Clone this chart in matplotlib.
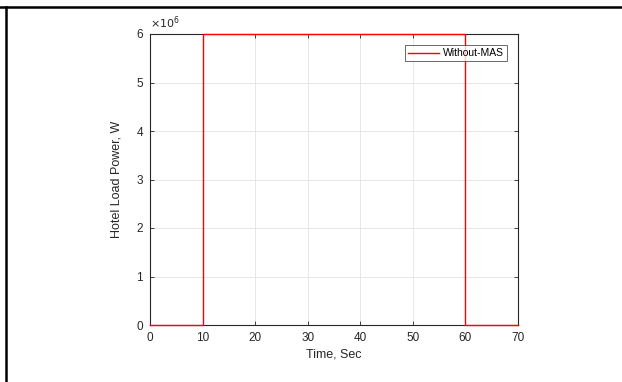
import matplotlib
matplotlib.use("Agg")
import matplotlib.pyplot as plt
from matplotlib.lines import Line2D
from matplotlib import ticker

# data: hotel load power without MAS (step profile)
time_s = [0, 10, 10, 60, 60, 70]
power_w = [0, 0, 6e6, 6e6, 0, 0]
xticks = [0, 10, 20, 30, 40, 50, 60, 70]
yticks = [0, 1e6, 2e6, 3e6, 4e6, 5e6, 6e6]

plt.rcParams["font.family"] = ["Liberation Sans", "DejaVu Sans"]

fig = plt.figure(figsize=(6.22, 3.82), dpi=100)
ax = fig.add_axes([150 / 622, 1 - 325 / 382, 368 / 622, 291 / 382])

ax.plot(time_s, power_w, color="#ff0000", lw=1.0, label="Without-MAS", clip_on=False, zorder=3)

ax.set_xlim(0, 70)
ax.set_ylim(0, 6e6)
ax.set_xticks(xticks)
ax.set_yticks(yticks)
ax.yaxis.set_major_formatter(ticker.FuncFormatter(lambda v, p: f"{v / 1e6:g}"))
ax.tick_params(direction="in", length=3, width=0.6, labelsize=8.5, colors="#262626",
               top=True, right=True, pad=5)
ax.grid(True, color="#e3e3e3", lw=0.6)
ax.set_axisbelow(True)
for s in ax.spines.values():
    s.set_linewidth(0.8)
    s.set_color("#262626")

ax.set_xlabel("Time, Sec", fontsize=9, color="#262626", labelpad=3)
ax.set_ylabel("Hotel Load Power, W", fontsize=9, color="#262626", labelpad=10)
ax.text(0.0, 1.012, r"$\times10^{6}$", transform=ax.transAxes, fontsize=8,
        color="#262626", ha="left", va="bottom")

leg = ax.legend(loc="upper right", fontsize=7.5, frameon=True, fancybox=False,
                edgecolor="#262626", handlelength=3.0, handletextpad=0.4,
                borderpad=0.3, bbox_to_anchor=(0.985, 0.98))
leg.get_frame().set_linewidth(0.6)

# page table borders
fig.add_artist(Line2D([0, 1], [1 - 7 / 382, 1 - 7 / 382], color="black", lw=1.8))
fig.add_artist(Line2D([5.5 / 622, 5.5 / 622], [0, 1 - 7 / 382], color="black", lw=1.8))

fig.savefig("out.png", dpi=100)
